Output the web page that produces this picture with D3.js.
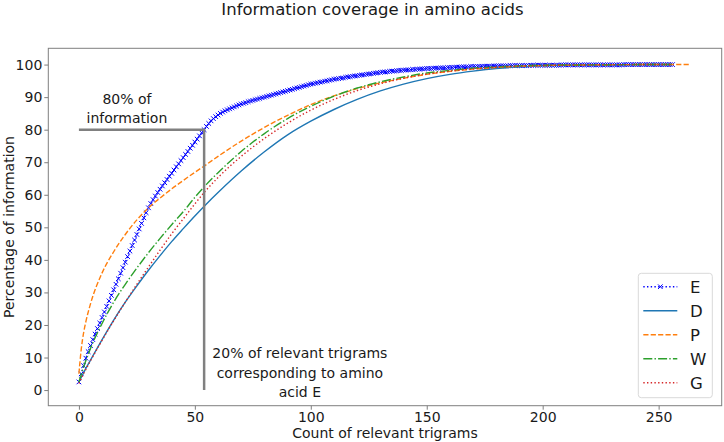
<!DOCTYPE html>
<html>
<head>
<meta charset="utf-8">
<script src="https://cdn.jsdelivr.net/npm/d3@7"></script>
<style>
  body { margin: 0; background: #fff; }
  text { font-family: "DejaVu Sans", sans-serif; fill: #1a1a1a; }
</style>
</head>
<body>
<div class="canvas"></div>
<script>
// Amino acid E, one value per relevant trigram (x = index)
const valuesE = [
  2.5, 5.0, 7.5, 9.8, 11.8, 13.7, 15.5, 17.2, 18.9, 20.6,
  22.3, 24.0, 25.7, 27.4, 29.1, 30.8, 32.5, 34.2, 35.9, 37.6,
  39.3, 41.0, 42.7, 44.4, 46.1, 47.8, 49.5, 51.2, 52.9, 54.5,
  56.0, 57.3, 58.5, 59.6, 60.7, 61.7, 62.7, 63.7, 64.7, 65.7,
  66.6, 67.6, 68.6, 69.5, 70.5, 71.4, 72.4, 73.3, 74.3, 75.2,
  76.2, 77.1, 78.1, 79.0, 80.0, 81.0, 81.9, 82.7, 83.4, 84.0,
  84.5, 85.0, 85.4, 85.8, 86.1, 86.4, 86.7, 87.0, 87.3, 87.6,
  87.9, 88.1, 88.3, 88.6, 88.8, 89.0, 89.2, 89.4, 89.6, 89.8,
  90.0, 90.2, 90.4, 90.6, 90.8, 91.0, 91.2, 91.4, 91.6, 91.8,
  92.0, 92.2, 92.4, 92.6, 92.8, 93.0, 93.2, 93.4, 93.6, 93.8,
  94.0, 94.1, 94.3, 94.4, 94.6, 94.7, 94.9, 95.0, 95.2, 95.3,
  95.5, 95.6, 95.7, 95.8, 95.9, 96.1, 96.2, 96.3, 96.4, 96.5,
  96.6, 96.7, 96.8, 96.9, 97.0, 97.1, 97.2, 97.3, 97.4, 97.5,
  97.6, 97.7, 97.7, 97.8, 97.9, 98.0, 98.0, 98.1, 98.2, 98.2,
  98.3, 98.3, 98.4, 98.4, 98.5, 98.5, 98.6, 98.6, 98.7, 98.7,
  98.8, 98.8, 98.8, 98.9, 98.9, 98.9, 99.0, 99.0, 99.0, 99.1,
  99.1, 99.1, 99.2, 99.2, 99.2, 99.3, 99.3, 99.3, 99.3, 99.4,
  99.4, 99.4, 99.4, 99.4, 99.5, 99.5, 99.5, 99.5, 99.5, 99.6,
  99.6, 99.6, 99.6, 99.6, 99.6, 99.6, 99.7, 99.7, 99.7, 99.7,
  99.7, 99.7, 99.7, 99.7, 99.7, 99.8, 99.8, 99.8, 99.8, 99.8,
  99.8, 99.8, 99.8, 99.8, 99.8, 99.8, 99.8, 99.8, 99.9, 99.9,
  99.9, 99.9, 99.9, 99.9, 99.9, 99.9, 99.9, 99.9, 99.9, 99.9,
  99.9, 99.9, 99.9, 99.9, 99.9, 99.9, 99.9, 99.9, 99.9, 99.9,
  99.9, 99.9, 99.9, 99.9, 99.9, 100, 100, 100, 100, 100,
  100, 100, 100, 100, 100, 100, 100, 100, 100, 100,
  100, 100, 100, 100, 100, 100, 100
];

// D, W, G read at these trigram counts
const countsLine = [0, 2, 5, 10, 15, 20, 25, 30, 35, 40, 45, 50, 55, 60, 70, 80,
  90, 100, 110, 120, 130, 140, 150, 160, 170, 180, 190, 200, 220, 240, 256];
const valuesD = [2.5, 5.3, 9.2, 15.5, 21.5, 27.0, 32.0, 36.8, 41.3, 45.6, 49.6, 53.5,
  57.2, 60.7, 67.3, 73.2, 78.4, 82.6, 86.2, 89.3, 91.9, 94.0, 95.7, 97.0, 98.0,
  98.8, 99.3, 99.6, 99.9, 100, 100];
const valuesW = [2.5, 7.0, 12.8, 20.5, 27.0, 32.5, 37.5, 42.2, 46.6, 50.8, 54.8, 59.2,
  63.2, 66.8, 73.3, 78.8, 83.4, 87.2, 90.3, 92.8, 94.7, 96.2, 97.4, 98.2, 98.9,
  99.3, 99.6, 99.8, 99.9, 100, 100];
const valuesG = [2.0, 5.0, 9.0, 15.3, 21.3, 27.0, 32.5, 37.8, 43.0, 48.0, 52.6, 57.2,
  61.5, 65.3, 71.8, 77.3, 82.0, 86.0, 89.3, 92.0, 94.1, 95.8, 97.1, 98.0, 98.7,
  99.2, 99.5, 99.7, 99.9, 100, 100];

// P has its own counts (longer tail)
const countsP = [0, 1, 2, 3, 5, 10, 15, 20, 25, 30, 35, 40, 45, 50, 55, 60, 70, 80,
  90, 100, 110, 120, 130, 140, 150, 160, 170, 180, 190, 200, 220, 240, 263];
const valuesP = [5.0, 12.5, 17.5, 21.0, 26.5, 36.0, 42.5, 47.8, 52.3, 56.0, 59.0, 61.8,
  64.4, 66.9, 69.3, 71.8, 76.5, 80.7, 84.4, 87.7, 90.4, 92.6, 94.4, 95.8, 97.0,
  97.9, 98.6, 99.1, 99.5, 99.7, 99.9, 100, 100];

const xTicks = [0, 50, 100, 150, 200, 250];
const yTicks = [0, 10, 20, 30, 40, 50, 60, 70, 80, 90, 100];

// 80% of information reached at this count for E
const cutCount = 54;
const cutPercent = 80;

const series = [
  { name: 'E', xs: valuesE.map((v, i) => i), ys: valuesE, color: '#0000ff', dash: '1.4,2.3', marker: true },
  { name: 'D', xs: countsLine, ys: valuesD, color: '#1f77b4', dash: null },
  { name: 'P', xs: countsP, ys: valuesP, color: '#ff7f0e', dash: '5.2,2.2' },
  { name: 'W', xs: countsLine, ys: valuesW, color: '#2ca02c', dash: '9,2.2,1.4,2.2' },
  { name: 'G', xs: countsLine, ys: valuesG, color: '#d62728', dash: '1.4,2.3' }
];

const width = 724;
const height = 442;
const plot = { left: 48.3, right: 721.7, top: 48.3, bottom: 405.7 };

//Canvas
const svg = d3
  .select('.canvas')
  .append('svg')
  .attr('width', width)
  .attr('height', height);

// Scales
const x = d3.scaleLinear().domain([-13.2, 277.2]).range([plot.left, plot.right]);
const y = d3.scaleLinear().domain([-4.8, 105]).range([plot.bottom, plot.top]);

// Title and axis labels
svg.append('text')
  .attr('x', 372.5)
  .attr('y', 15)
  .attr('text-anchor', 'middle')
  .style('font-size', '16.5px')
  .text('Information coverage in amino acids');

svg.append('text')
  .attr('transform', `translate(13.5,${(plot.top + plot.bottom) / 2}) rotate(-90)`)
  .attr('text-anchor', 'middle')
  .style('font-size', '14px')
  .text('Percentage of information');

svg.append('text')
  .attr('x', (plot.left + plot.right) / 2)
  .attr('y', 438)
  .attr('text-anchor', 'middle')
  .style('font-size', '14px')
  .text('Count of relevant trigrams');

// Axes
const xAxis = svg.append('g')
  .attr('transform', `translate(0,${plot.bottom})`)
  .call(d3.axisBottom(x).tickValues(xTicks).tickSize(4).tickPadding(2.5));
const yAxis = svg.append('g')
  .attr('transform', `translate(${plot.left},0)`)
  .call(d3.axisLeft(y).tickValues(yTicks).tickSize(4).tickPadding(2));

[xAxis, yAxis].forEach((g) => {
  g.select('.domain').remove();
  g.selectAll('.tick line').attr('stroke', '#7f7f7f');
  g.selectAll('.tick text').style('font-size', '14px').attr('fill', '#1a1a1a')
    .style('font-family', '"DejaVu Sans", sans-serif');
});

// Frame
svg.append('rect')
  .attr('x', plot.left)
  .attr('y', plot.top)
  .attr('width', plot.right - plot.left)
  .attr('height', plot.bottom - plot.top)
  .attr('fill', 'none')
  .attr('stroke', '#7f7f7f')
  .attr('stroke-width', 1);

svg.append('clipPath')
  .attr('id', 'clip')
  .append('rect')
  .attr('x', plot.left)
  .attr('y', plot.top)
  .attr('width', plot.right - plot.left)
  .attr('height', plot.bottom - plot.top);

const graph = svg.append('g').attr('clip-path', 'url(#clip)');

// Lines
series.forEach((s) => {
  const pts = s.xs.map((c, i) => [c, s.ys[i]]);
  const line = d3.line()
    .x((d) => x(d[0]))
    .y((d) => y(d[1]))
    .curve(s.marker ? d3.curveLinear : d3.curveMonotoneX);

  graph.append('path')
    .datum(pts)
    .attr('d', line)
    .attr('fill', 'none')
    .attr('stroke', s.color)
    .attr('stroke-width', 1.4)
    .attr('stroke-dasharray', s.dash);

  if (s.marker) {
    const m = 2.3;
    graph.append('g')
      .selectAll('path')
      .data(pts)
      .enter()
      .append('path')
      .attr('d', (d) => {
        const px = x(d[0]), py = y(d[1]);
        return `M${px - m},${py - m}L${px + m},${py + m}M${px - m},${py + m}L${px + m},${py - m}`;
      })
      .attr('stroke', s.color)
      .attr('stroke-width', 1);
  }
});

// 80% annotation lines
graph.append('path')
  .attr('d', `M${x(0)},${y(cutPercent)}L${x(cutCount)},${y(cutPercent)}L${x(cutCount)},${y(0)}`)
  .attr('fill', 'none')
  .attr('stroke', '#808080')
  .attr('stroke-width', 2.5);

// Annotation texts
const note1 = svg.append('text')
  .attr('text-anchor', 'middle')
  .style('font-size', '14px');
['80% of', 'information'].forEach((t, i) => {
  note1.append('tspan').attr('x', x(20.7)).attr('y', 104 + i * 18.7).text(t);
});

const note2 = svg.append('text')
  .attr('text-anchor', 'middle')
  .style('font-size', '14px');
['20% of relevant trigrams', 'corresponding to amino', 'acid E'].forEach((t, i) => {
  note2.append('tspan').attr('x', x(95.3)).attr('y', 358.3 + i * 19.2).text(t);
});

//Legend
const legend = svg.append('g');
legend.append('rect')
  .attr('x', 638.3)
  .attr('y', 273.3)
  .attr('width', 74)
  .attr('height', 124.4)
  .attr('rx', 3)
  .attr('fill', '#fff')
  .attr('fill-opacity', 0.8)
  .attr('stroke', '#d9d9d9')
  .attr('stroke-width', 1);

const rows = legend.selectAll('g.row')
  .data(series)
  .enter()
  .append('g')
  .attr('class', 'row')
  .attr('transform', (d, i) => `translate(643.3,${286.7 + i * 24})`);

rows.append('line')
  .attr('x1', 0)
  .attr('x2', 34)
  .attr('stroke', (d) => d.color)
  .attr('stroke-width', 1.4)
  .attr('stroke-dasharray', (d) => d.dash);

rows.filter((d) => d.marker)
  .append('path')
  .attr('d', 'M14.7,-2.3L19.3,2.3M14.7,2.3L19.3,-2.3')
  .attr('stroke', (d) => d.color)
  .attr('stroke-width', 1);

rows.append('text')
  .attr('x', 46.7)
  .attr('dy', '0.36em')
  .style('font-size', '16.5px')
  .text((d) => d.name);
</script>
</body>
</html>
